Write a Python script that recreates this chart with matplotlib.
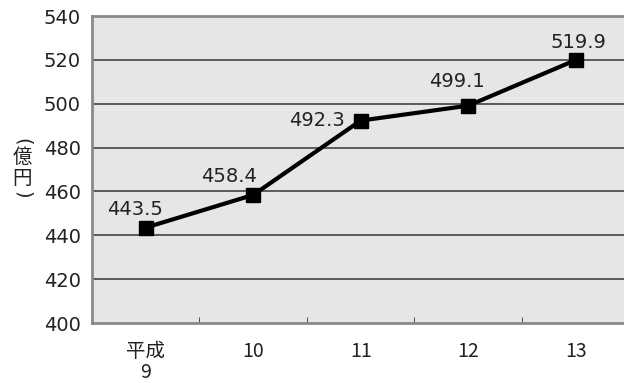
import matplotlib
matplotlib.use('Agg')
import matplotlib.pyplot as plt

# 平成9〜13年度の推移（億円）
years = ['平成\n9', '10', '11', '12', '13']
values = [443.5, 458.4, 492.3, 499.1, 519.9]
yticks = [400, 420, 440, 460, 480, 500, 520, 540]
# ラベルの位置ずらし（ピクセル）
label_offsets = [(-11, 18), (-24, 18), (-44, 0), (-11, 24), (3, 18)]

plt.rcParams['font.family'] = ['DejaVu Sans', 'Noto Sans CJK JP']

fig = plt.figure(figsize=(6.24, 3.83), dpi=100)
ax = fig.add_axes([92 / 624, 60 / 383, 532 / 624, 307 / 383])
ax.set_facecolor('#e6e6e6')

x = list(range(len(values)))
ax.set_xlim(-0.5, 4.45)
ax.set_ylim(400, 540)
ax.set_yticks(yticks)
ax.set_yticklabels([str(v) for v in yticks], fontsize=14, color='#222222')
ax.tick_params(axis='y', length=0, pad=8)

ax.set_xticks(x)
ax.set_xticklabels(years, fontsize=14, color='#222222', linespacing=1.0,
                   family=['Noto Sans CJK JP', 'DejaVu Sans'])
ax.set_xticks([i + 0.5 for i in x[:-1]], minor=True)
ax.tick_params(axis='x', which='major', length=0, pad=13)
ax.tick_params(axis='x', which='minor', direction='in', length=4, color='#333333')

for v in yticks[1:-1]:
    ax.axhline(v, color='#505050', lw=1.3, zorder=1)

for side in ['left', 'top', 'bottom']:
    ax.spines[side].set_color('#8a8a8a')
    ax.spines[side].set_linewidth(2)
    ax.spines[side].set_linestyle((0, (1, 1)))
ax.spines['right'].set_visible(False)

ax.plot(x, values, color='black', lw=3, marker='s', markersize=10, zorder=3)

for xi, v, off in zip(x, values, label_offsets):
    ax.annotate(f'{v:.1f}', (xi, v), xytext=off, textcoords='offset pixels',
                ha='center', va='center', fontsize=14, color='#222222', zorder=4)

# 縦書きの単位（括弧は横向きに回転）
ylab_x = 22 / 624
fig.text(ylab_x, 1 - 142 / 383, '(', rotation=-90, ha='center', va='center',
         fontsize=14, color='#222222')
fig.text(ylab_x, 1 - 168 / 383, '億\n円', ha='center', va='center',
         fontsize=14, linespacing=1.0, family='Noto Sans CJK JP', color='#222222')
fig.text(ylab_x, 1 - 195 / 383, ')', rotation=-90, ha='center', va='center',
         fontsize=14, color='#222222')

fig.savefig('out.png', dpi=100)
